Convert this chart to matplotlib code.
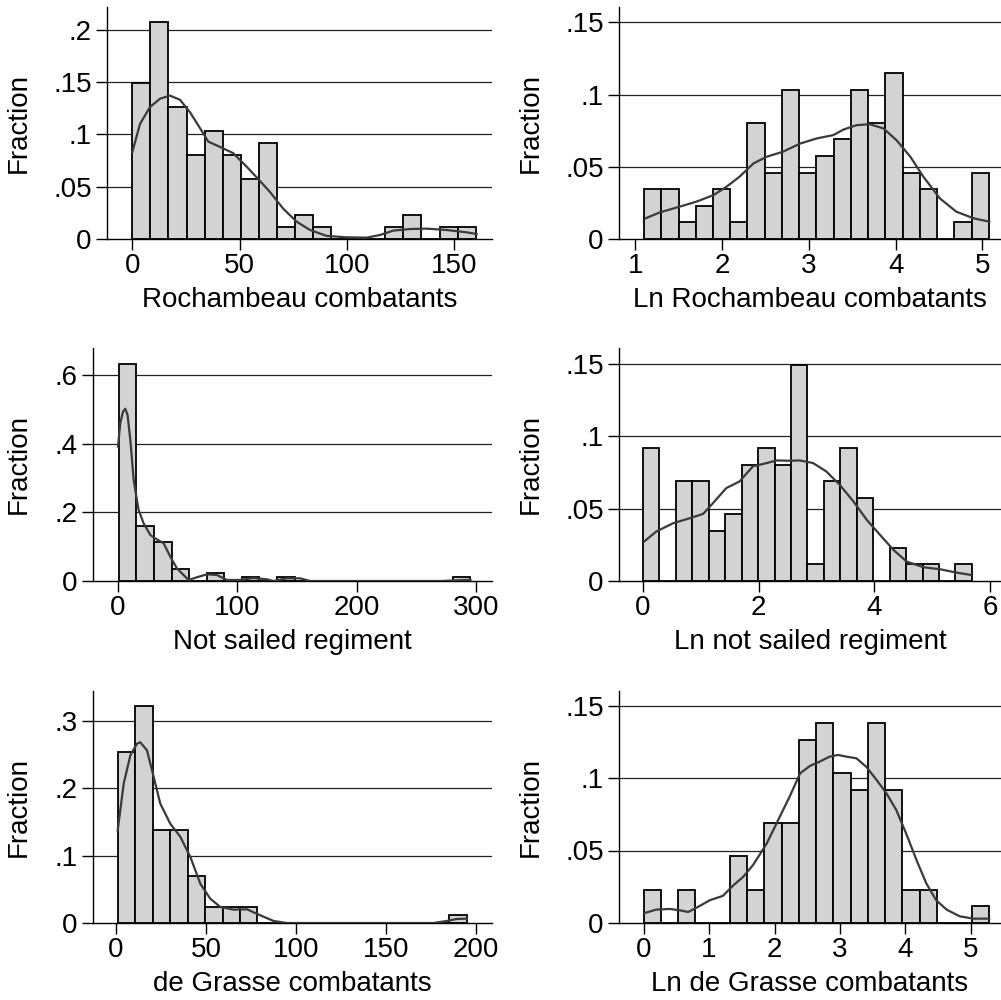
import numpy as np
import matplotlib
matplotlib.use("Agg")
import matplotlib.pyplot as plt
from matplotlib.ticker import FuncFormatter

plt.rcParams['font.family'] = ['Liberation Sans', 'DejaVu Sans']

# ---------------- data ----------------
# Panel 1: Rochambeau combatants
roch_range = (0.0, 160.0)
roch_frac = [0.1494, 0.2069, 0.1264, 0.0805, 0.1034, 0.0805, 0.0575, 0.0920, 0.0115, 0.0230,
             0.0115, 0.0, 0.0, 0.0, 0.0115, 0.0230, 0.0, 0.0115, 0.0115]
roch_kde_x = [0, 3.6, 8.2, 12.9, 17.5, 22.2, 26.9, 31.5, 35.4, 40.8, 47, 53.3, 57.9, 64.1, 70.3,
              76.6, 82.8, 90.5, 99.8, 109.2, 115.4, 121.6, 129.3, 137.1, 146.4, 155.7, 160.4]
roch_kde_y = [0.083, 0.110, 0.126, 0.134, 0.137, 0.133, 0.121, 0.106, 0.093, 0.088, 0.082, 0.069,
              0.059, 0.045, 0.029, 0.0165, 0.0086, 0.003, 0.0016, 0.0013, 0.0038, 0.008, 0.0095,
              0.0099, 0.0086, 0.0064, 0.0048]

# Panel 2: Ln Rochambeau combatants
lroch_range = (1.0986, 5.0752)
lroch_frac = [0.0345, 0.0345, 0.0115, 0.0230, 0.0345, 0.0115, 0.0805, 0.0460, 0.1034, 0.0460,
              0.0575, 0.0690, 0.1034, 0.0805, 0.1149, 0.0460, 0.0345, 0.0, 0.0115, 0.0460]
lroch_kde_x = [1.115, 1.28, 1.51, 1.70, 1.90, 2.05, 2.20, 2.36, 2.51, 2.70, 2.90, 3.09, 3.28,
               3.40, 3.55, 3.70, 3.86, 4.01, 4.17, 4.32, 4.51, 4.70, 4.90, 5.08]
lroch_kde_y = [0.0143, 0.0184, 0.0224, 0.0258, 0.0304, 0.0362, 0.0431, 0.0523, 0.0569, 0.0604,
               0.0661, 0.0696, 0.0719, 0.0758, 0.0788, 0.0795, 0.0765, 0.0684, 0.0569, 0.0431,
               0.0281, 0.0189, 0.0143, 0.012]

# Panel 3: Not sailed regiment
ns_range = (1.0, 295.0)
ns_frac = [0.6322, 0.1609, 0.1149, 0.0345, 0.0, 0.0230, 0.0, 0.0115, 0.0, 0.0115,
           0.0, 0.0, 0.0, 0.0, 0.0, 0.0, 0.0, 0.0, 0.0, 0.0115]
ns_kde_x = [0.3, 2.2, 4.5, 6.4, 8.3, 10.6, 13.4, 17.5, 21.7, 27.3, 32.8, 38.4, 44.0, 49.5, 55.1,
            59.3, 66.2, 74.6, 82.9, 91.3, 102.4, 113.6, 124.7, 130.3, 141.4, 152.5, 160.9,
            200.0, 270.0, 284.0, 290.0, 295.0]
ns_kde_y = [0.391, 0.459, 0.493, 0.501, 0.483, 0.411, 0.294, 0.207, 0.168, 0.134, 0.121, 0.110,
            0.071, 0.037, 0.0175, 0.003, 0.0107, 0.0194, 0.0175, 0.003, 0.003, 0.0087, 0.005,
            0.0, 0.0078, 0.0078, 0.0, 0.0, 0.0, 0.002, 0.003, 0.003]

# Panel 4: Ln not sailed regiment
lns_range = (0.0, 5.687)
lns_frac = [0.0920, 0.0, 0.0690, 0.0690, 0.0345, 0.0460, 0.0805, 0.0920, 0.0805, 0.1494,
            0.0115, 0.0690, 0.0920, 0.0575, 0.0, 0.0230, 0.0115, 0.0115, 0.0, 0.0115]
lns_kde_x = [0.017, 0.23, 0.52, 0.81, 1.04, 1.21, 1.44, 1.67, 1.90, 2.14, 2.31, 2.54, 2.71, 2.94,
             3.17, 3.40, 3.64, 3.87, 4.10, 4.33, 4.56, 4.85, 5.14, 5.42, 5.67]
lns_kde_y = [0.0272, 0.0342, 0.0399, 0.0434, 0.0464, 0.0538, 0.0642, 0.0688, 0.0792, 0.0815,
             0.0833, 0.0831, 0.0833, 0.0815, 0.0757, 0.0665, 0.0549, 0.0422, 0.0318, 0.0215,
             0.0134, 0.0095, 0.0081, 0.0058, 0.0042]

# Panel 5: de Grasse combatants
dg_range = (1.0, 195.0)
dg_frac = [0.2529, 0.3218, 0.1379, 0.1379, 0.0690, 0.0230, 0.0230, 0.0230, 0.0, 0.0,
           0.0, 0.0, 0.0, 0.0, 0.0, 0.0, 0.0, 0.0, 0.0, 0.0115]
dg_kde_x = [0.9, 4.3, 8.0, 11.7, 13.5, 17.2, 20.9, 24.6, 30.2, 35.7, 41.3, 46.9, 52.4, 58.0,
            65.4, 72.8, 80.2, 87.6, 95.0, 176.5, 183.9, 189.4, 195.0]
dg_kde_y = [0.137, 0.207, 0.249, 0.266, 0.268, 0.256, 0.217, 0.177, 0.147, 0.128, 0.098, 0.058,
            0.036, 0.0237, 0.0198, 0.0203, 0.0114, 0.003, 0.0, 0.0, 0.003, 0.006, 0.0064]

# Panel 6: Ln de Grasse combatants
ldg_range = (0.0, 5.273)
ldg_frac = [0.0230, 0.0, 0.0230, 0.0, 0.0, 0.0460, 0.0230, 0.0690, 0.0690, 0.1264,
            0.1379, 0.1034, 0.0920, 0.1379, 0.0920, 0.0230, 0.0230, 0.0, 0.0, 0.0115]
ldg_kde_x = [0.015, 0.19, 0.40, 0.55, 0.68, 0.81, 1.01, 1.21, 1.37, 1.52, 1.67, 1.88, 2.08,
             2.23, 2.39, 2.54, 2.69, 2.84, 2.97, 3.10, 3.25, 3.40, 3.56, 3.71, 3.86, 4.01,
             4.17, 4.32, 4.47, 4.63, 4.83, 5.04, 5.28]
ldg_kde_y = [0.0069, 0.0092, 0.0097, 0.0088, 0.0076, 0.0106, 0.0157, 0.0187, 0.026, 0.0318,
             0.0399, 0.0548, 0.0733, 0.0871, 0.1032, 0.1083, 0.1113, 0.1147, 0.1159, 0.1147,
             0.1136, 0.1078, 0.0986, 0.0894, 0.0779, 0.0618, 0.0433, 0.0272, 0.0157, 0.0092,
             0.0046, 0.003, 0.003]

xlabels = ["Rochambeau combatants", "Ln Rochambeau combatants",
           "Not sailed regiment", "Ln not sailed regiment",
           "de Grasse combatants", "Ln de Grasse combatants"]
yticks_list = [[0, 0.05, 0.1, 0.15, 0.2], [0, 0.05, 0.1, 0.15],
               [0, 0.2, 0.4, 0.6], [0, 0.05, 0.1, 0.15],
               [0, 0.1, 0.2, 0.3], [0, 0.05, 0.1, 0.15]]
xticks_list = [[0, 50, 100, 150], [1, 2, 3, 4, 5],
               [0, 100, 200, 300], [0, 2, 4, 6],
               [0, 50, 100, 150, 200], [0, 1, 2, 3, 4, 5]]

panels = [
    (roch_range, roch_frac, roch_kde_x, roch_kde_y),
    (lroch_range, lroch_frac, lroch_kde_x, lroch_kde_y),
    (ns_range, ns_frac, ns_kde_x, ns_kde_y),
    (lns_range, lns_frac, lns_kde_x, lns_kde_y),
    (dg_range, dg_frac, dg_kde_x, dg_kde_y),
    (ldg_range, ldg_frac, ldg_kde_x, ldg_kde_y),
]

# ---------------- layout ----------------
W, H = 1001, 1000
ax_px = [  # left, right, top, bottom in pixels
    (107, 492, 7, 239), (619, 1001, 7, 239),
    (93, 492, 348, 581), (619, 1001, 348, 581),
    (93, 492, 691, 923), (619, 1001, 691, 923),
]
xlims = [(-11.8, 167.6), (0.81, 5.215), (-20.6, 313), (-0.415, 6.19), (-12.8, 209), (-0.377, 5.46)]
ylims = [0.2216, 0.1606, 0.678, 0.161, 0.344, 0.160]
ylabel_right_px = [32, 544, 32, 544, 32, 544]


def fmt(v, pos):
    if abs(v) < 1e-12:
        return "0"
    s = ("%g" % v)
    if s.startswith("0."):
        s = s[1:]
    return s


fig = plt.figure(figsize=(W / 100, H / 100), dpi=100)
fig.patch.set_facecolor('white')

for i, (rng, frac, kx, ky) in enumerate(panels):
    l, r, t, b = ax_px[i]
    ax = fig.add_axes([l / W, 1 - b / H, (r - l) / W, (b - t) / H])
    edges = np.linspace(rng[0], rng[1], len(frac) + 1)
    widths = np.diff(edges)
    ax.bar(edges[:-1], frac, width=widths, align='edge', color='#d3d3d3',
           edgecolor='black', linewidth=1.3, zorder=2)
    ax.plot(kx, ky, color='#3a3a3a', linewidth=1.6, zorder=3)
    ax.set_xlim(*xlims[i])
    ax.set_ylim(0, ylims[i])
    ax.set_yticks(yticks_list[i])
    ax.set_xticks(xticks_list[i])
    ax.yaxis.set_major_formatter(FuncFormatter(fmt))
    for yv in yticks_list[i][1:]:
        ax.axhline(yv, color='#222222', linewidth=0.9, zorder=1)
    for s in ['top', 'right']:
        ax.spines[s].set_visible(False)
    ax.spines['left'].set_linewidth(1.0)
    ax.spines['bottom'].set_linewidth(1.0)
    ax.spines['left'].set_color('black')
    ax.spines['bottom'].set_color('black')
    ax.tick_params(axis='both', direction='out', length=8, width=1.0, labelsize=20,
                   colors='black', pad=3)
    ax.tick_params(axis='x', pad=2)
    ax.set_xlabel(xlabels[i], fontsize=20, labelpad=6)
    ax.set_ylabel("Fraction", fontsize=20)
    ax.yaxis.set_label_coords((ylabel_right_px[i] - l) / (r - l), 0.5)
    ax.set_facecolor('white')

fig.savefig("out.png", dpi=100)
